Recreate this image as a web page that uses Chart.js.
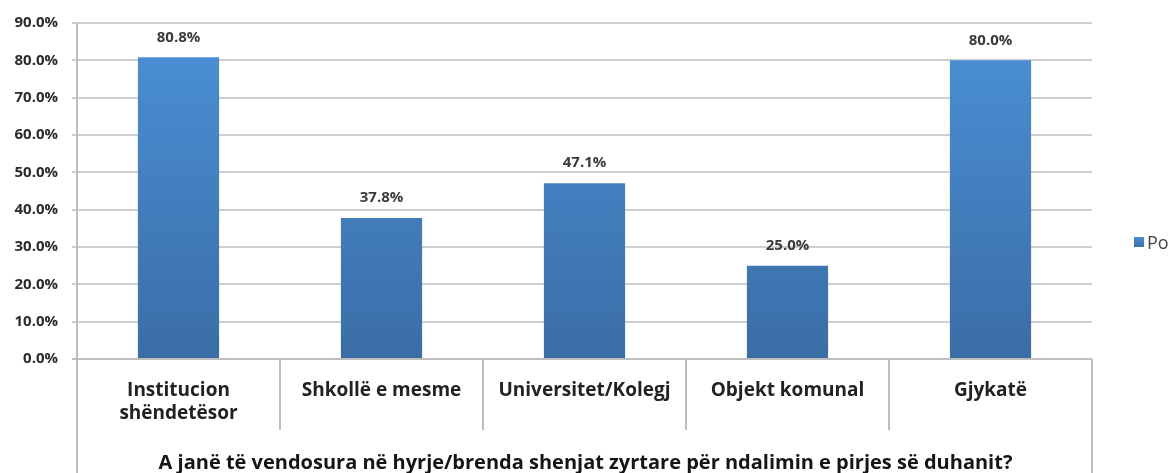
<!DOCTYPE html>
<html>
<head>
<meta charset="utf-8">
<script src="https://cdn.jsdelivr.net/npm/chart.js@4.4.0/dist/chart.umd.min.js"></script>
<style>
html,body{margin:0;padding:0;background:#fff;}
#wrap{width:1175px;height:473px;position:relative;}
</style>
</head>
<body>
<div id="wrap"><canvas id="c" width="1175" height="473"></canvas></div>
<script>
const categories = [["Institucion", "shëndetësor"], ["Shkollë e mesme"], ["Universitet/Kolegj"], ["Objekt komunal"], ["Gjykatë"]];
const seriesName = "Po";
const values = [80.8, 37.8, 47.1, 25.0, 80.0];
const axisTitle = "A janë të vendosura në hyrje/brenda shenjat zyrtare për ndalimin e pirjes së duhanit?";
const yMax = 90;
const yStep = 10;

const FONT = "'Open Sans', Lato, sans-serif";

const framePlugin = {
  id: 'frame',
  afterDatasetsDraw(chart) {
    const ctx = chart.ctx;
    const x = chart.scales.x;
    const area = chart.chartArea;
    const H = chart.height;
    ctx.save();
    ctx.strokeStyle = '#bdbdbd';
    ctx.lineWidth = 2;
    ctx.beginPath();
    ctx.moveTo(area.left, area.top);
    ctx.lineTo(area.left, H);
    ctx.stroke();
    ctx.beginPath();
    ctx.moveTo(area.right, area.bottom);
    ctx.lineTo(area.right, H);
    ctx.stroke();
    ctx.beginPath();
    ctx.moveTo(area.left - 5, area.bottom);
    ctx.lineTo(area.right, area.bottom);
    ctx.stroke();
    const n = categories.length;
    for (let i = 1; i < n; i++) {
      const px = (x.getPixelForValue(i - 1) + x.getPixelForValue(i)) / 2;
      ctx.beginPath();
      ctx.moveTo(px, area.bottom);
      ctx.lineTo(px, area.bottom + 71);
      ctx.stroke();
    }
    ctx.fillStyle = '#222';
    ctx.font = "bold 19px " + FONT;
    ctx.textAlign = 'center';
    ctx.textBaseline = 'middle';
    categories.forEach((lines, i) => {
      const px = x.getPixelForValue(i);
      lines.forEach((t, j) => ctx.fillText(t, px, area.bottom + 32 + j * 23));
    });
    ctx.font = "bold 20px " + FONT;
    ctx.fillStyle = '#151515';
    ctx.fillText(axisTitle, (area.left + area.right) / 2 + 1, area.bottom + 104);
    ctx.font = "bold 15px " + FONT;
    ctx.fillStyle = '#3a3a3a';
    const meta = chart.getDatasetMeta(0);
    meta.data.forEach((bar, i) => {
      ctx.fillText(values[i].toFixed(1) + '%', bar.x, bar.y - 20);
    });
    const lx = area.right + 42, ly = (area.top + area.bottom) / 2 + 51;
    const g = ctx.createLinearGradient(0, ly - 5, 0, ly + 5);
    g.addColorStop(0, '#4a8fd4');
    g.addColorStop(1, '#3a6ea8');
    ctx.fillStyle = g;
    ctx.fillRect(lx, ly - 5, 10, 10);
    ctx.fillStyle = '#444';
    ctx.font = "18px " + FONT;
    ctx.textAlign = 'left';
    ctx.fillText(seriesName, lx + 13, ly + 2);
    ctx.restore();
  }
};

new Chart(document.getElementById('c'), {
  type: 'bar',
  data: {
    labels: categories,
    datasets: [{
      label: seriesName,
      data: values,
      backgroundColor: (c) => {
        const a = c.chart.chartArea;
        if (!a) return '#4a8fd4';
        const g = c.chart.ctx.createLinearGradient(0, a.top, 0, a.bottom);
        g.addColorStop(0, '#4b91d8');
        g.addColorStop(1, '#3a6da6');
        return g;
      },
      borderWidth: 0,
      barPercentage: 0.4,
      categoryPercentage: 1.0
    }]
  },
  options: {
    responsive: false,
    animation: false,
    devicePixelRatio: 1,
    layout: { padding: { top: 17, right: 83, bottom: 114, left: 0 } },
    plugins: { legend: { display: false }, tooltip: { enabled: false } },
    scales: {
      x: { display: false },
      y: {
        min: 0, max: yMax,
        afterFit(s) { s.width = 77; },
        border: { display: false },
        grid: { color: '#cfcfcf', lineWidth: 2, tickLength: 5, drawTicks: true },
        ticks: {
          stepSize: yStep,
          padding: 14,
          color: '#2b2b2b',
          font: { family: FONT, size: 15, weight: 'bold' },
          callback: (v) => v.toFixed(1) + '%'
        }
      }
    }
  },
  plugins: [framePlugin]
});
</script>
</body>
</html>
